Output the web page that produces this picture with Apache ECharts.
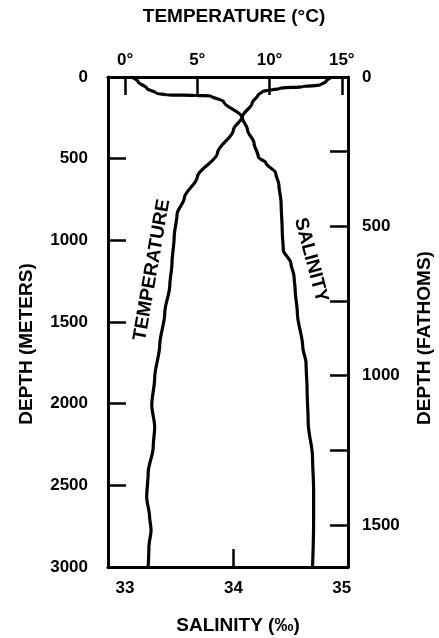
<!DOCTYPE html>
<html>
<head>
<meta charset="utf-8">
<script src="https://cdn.jsdelivr.net/npm/echarts@6/dist/echarts.min.js"></script>
<style>
html,body{margin:0;padding:0;background:#fff;}
#chart{width:439px;height:638px;}
</style>
</head>
<body>
<div id="chart"></div>
<script>
// Temperature profile (depth in meters, temperature in °C)
const depthTemp = [0,29,49,59,69,90,110,159,245,324,465,612,741,839,980,1139,1273,1445,1641,1843,2008,2143,2265,2424,2571,2694,2773,2877,3000];
const temperature = [14.3,13.9,13.5,12.3,10.7,9.5,9.2,8.8,8.1,7.5,6.4,5.0,4.1,3.6,3.4,3.25,3.1,2.75,2.4,2.05,1.85,2.05,1.95,1.6,1.5,1.7,1.8,1.65,1.6];

// Salinity profile (depth in meters, salinity in ‰)
const depthSal = [0,29,69,100,110,113,116,151,245,324,404,490,526,588,661,771,937,1059,1139,1224,1304,1445,1653,1751,1916,2118,2326,2528,2730,3000];
const salinity = [33.06,33.12,33.2,33.29,33.39,33.66,33.79,33.91,34.08,34.13,34.19,34.23,34.3,34.39,34.42,34.44,34.45,34.46,34.53,34.56,34.57,34.59,34.64,34.67,34.68,34.69,34.73,34.74,34.74,34.73];

// Tick labels
const tempTicks = [0,5,10,15];
const salTicks = [33,34,35];
const salTickMarks = [34];
const depthMeterMax = 3000;
const fathomMax = 3000 / 1.8288;

const TMIN = -1.18, TMAX = 15.43;
const SMIN = 33 + TMIN * 2 / 15, SMAX = 33 + TMAX * 2 / 15;

const FONT = 'Liberation Sans';
const lab = {color:'#000', fontFamily: FONT, fontWeight:'bold', fontSize:17};
const axLine = {show:true, onZero:false, lineStyle:{color:'#000', width:3}};
const tick = {show:true, inside:true, length:18, lineStyle:{color:'#000', width:2.5}};
const titleFont = 'bold 19px "Liberation Sans"';

const chart = echarts.init(document.getElementById('chart'), null, {renderer:'canvas'});
chart.setOption({
  backgroundColor:'#fff',
  animation:false,
  grid:{left:108, right:91, top:77, bottom:71, containLabel:false},
  xAxis:[
    {type:'value', position:'top', min:TMIN, max:TMAX,
     axisLine:axLine, splitLine:{show:false},
     axisTick:Object.assign({}, tick, {customValues: tempTicks}),
     axisLabel:Object.assign({}, lab, {customValues: tempTicks, margin:8, formatter: v => v + '°'})},
    {type:'value', position:'bottom', min:SMIN, max:SMAX,
     axisLine:axLine, splitLine:{show:false},
     axisTick:Object.assign({}, tick, {customValues: salTickMarks}),
     axisLabel:Object.assign({}, lab, {customValues: salTicks, margin:13, formatter: v => String(v)})}
  ],
  yAxis:[
    {type:'value', position:'left', inverse:true, min:0, max:depthMeterMax, interval:500,
     axisLine:axLine, splitLine:{show:false},
     axisTick:Object.assign({}, tick, {customValues:[500,1000,1500,2000,2500]}),
     axisLabel:Object.assign({}, lab, {margin:20, formatter: v => String(v)})},
    {type:'value', position:'right', inverse:true, min:0, max:fathomMax, interval:250,
     axisLine:axLine, splitLine:{show:false},
     axisTick:Object.assign({}, tick, {customValues:[250,500,750,1000,1250,1500]}),
     axisLabel:Object.assign({}, lab, {margin:14, showMaxLabel:false,
       formatter: v => (Math.round(v) % 500 === 0 ? String(Math.round(v)) : '')})}
  ],
  series:[
    {type:'line', name:'Temperature', xAxisIndex:0, yAxisIndex:0,
     data: temperature.map((t,i) => [t, depthTemp[i]]),
     smooth:0.3, smoothMonotone:'y', symbol:'none',
     lineStyle:{color:'#000', width:3.2}},
    {type:'line', name:'Salinity', xAxisIndex:1, yAxisIndex:0,
     data: salinity.map((s,i) => [s, depthSal[i]]),
     smooth:0.3, smoothMonotone:'y', symbol:'none',
     lineStyle:{color:'#000', width:3.2}}
  ],
  graphic:[
    {type:'text', x:234, y:17, style:{text:'TEMPERATURE (°C)', x:0, y:0, align:'center', verticalAlign:'middle', fill:'#000', font:titleFont}},
    {type:'text', x:238, y:626, style:{text:'SALINITY (‰)', x:0, y:0, align:'center', verticalAlign:'middle', fill:'#000', font:titleFont}},
    {type:'text', x:27, y:344, rotation:Math.PI/2, style:{text:'DEPTH (METERS)', x:0, y:0, align:'center', verticalAlign:'middle', fill:'#000', font:titleFont}},
    {type:'text', x:425, y:338, rotation:Math.PI/2, style:{text:'DEPTH (FATHOMS)', x:0, y:0, align:'center', verticalAlign:'middle', fill:'#000', font:titleFont}},
    {type:'text', x:152, y:270, rotation:1.40, style:{text:'TEMPERATURE', x:0, y:0, align:'center', verticalAlign:'middle', fill:'#000', font:titleFont}},
    {type:'text', x:311, y:260, rotation:-1.31, style:{text:'SALINITY', x:0, y:0, align:'center', verticalAlign:'middle', fill:'#000', font:titleFont}}
  ]
});
</script>
</body>
</html>
